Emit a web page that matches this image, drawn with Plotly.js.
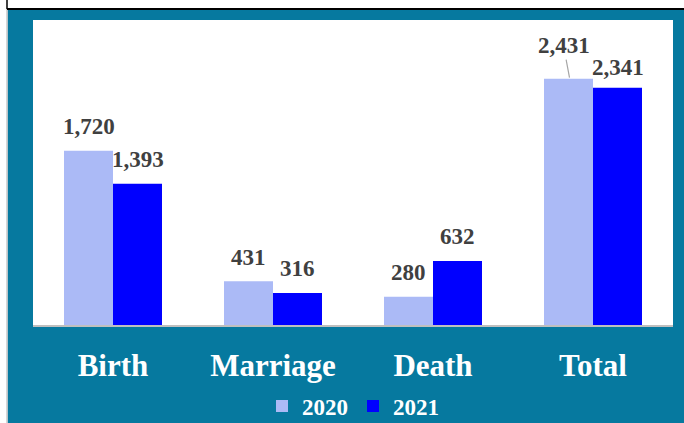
<!DOCTYPE html>
<html>
<head>
<meta charset="utf-8">
<script src="https://cdn.plot.ly/plotly-3.0.1.min.js"></script>
<style>html,body{margin:0;padding:0;background:#fff;}#chart{width:684px;height:423px;}</style>
</head>
<body>
<div id="chart"></div>
<script>
const categories = ["Birth", "Marriage", "Death", "Total"];
const seriesNames = ["2020", "2021"];
const values2020 = [1720, 431, 280, 2431];
const values2021 = [1393, 316, 632, 2341];

const teal = "#06799f";
const color2020 = "#abbaf6";
const color2021 = "#0000ff";
const labelColor = "#404040";
const serif = "Liberation Serif";

function fmt(v) { return v.toLocaleString("en-US"); }

const traces = [
  {type: "bar", name: seriesNames[0], x: categories, y: values2020,
   marker: {color: color2020}, hoverinfo: "none"},
  {type: "bar", name: seriesNames[1], x: categories, y: values2021,
   marker: {color: color2021}, hoverinfo: "none"}
];

const annotations = [];
const off = 24.5; // half bar width in px
categories.forEach((c, i) => {
  const isTotal = c === "Total";
  if (isTotal) {
    annotations.push({x: c, y: values2020[i], xref: "x", yref: "y",
      text: "<b>" + fmt(values2020[i]) + "</b>", showarrow: true,
      arrowhead: 0, arrowcolor: "#a6a6a6", arrowwidth: 1.2,
      ax: -6, ay: -32, xshift: -off + 1, yshift: 1, standoff: 0,
      font: {family: serif, size: 23, color: labelColor}});
  } else {
    annotations.push({x: c, y: values2020[i], xref: "x", yref: "y",
      text: "<b>" + fmt(values2020[i]) + "</b>", showarrow: false,
      xshift: -off, yshift: 24, yanchor: "middle",
      font: {family: serif, size: 23, color: labelColor}});
  }
  annotations.push({x: c, y: values2021[i], xref: "x", yref: "y",
    text: "<b>" + fmt(values2021[i]) + "</b>", showarrow: false,
    xshift: off, yshift: isTotal ? 20 : 24, yanchor: "middle",
    font: {family: serif, size: 23, color: labelColor}});
});

const L = 33, R = 11, T = 20, B = 98, W = 684, H = 423;
const pw = W - L - R, ph = H - T - B;
const px = x => (x - L) / pw;
const py = y => (H - B - y) / ph;

const shapes = [
  {type: "rect", xref: "paper", yref: "paper", x0: px(-5), x1: px(W + 5), y0: py(9), y1: py(-5),
   fillcolor: "#ffffff", line: {width: 0}, layer: "above"},
  {type: "rect", xref: "paper", yref: "paper", x0: px(-5), x1: px(7.5), y0: py(H + 5), y1: py(-5),
   fillcolor: "#ffffff", line: {width: 0}, layer: "above"},
  {type: "line", xref: "paper", yref: "paper", x0: px(7), x1: px(7), y0: py(H + 5), y1: py(9),
   line: {color: "#c8c8c8", width: 1.5}, layer: "above"},
  {type: "line", xref: "paper", yref: "paper", x0: px(7), x1: px(W + 5), y0: py(9), y1: py(9),
   line: {color: "#000000", width: 2}, layer: "above"},
  {type: "line", xref: "paper", yref: "paper", x0: px(7), x1: px(7), y0: py(9), y1: py(-5),
   line: {color: "#000000", width: 1.5}, layer: "above"}
];

const layout = {
  width: W, height: H,
  margin: {l: L, r: R, t: T, b: B, pad: 0, autoexpand: false},
  paper_bgcolor: teal,
  plot_bgcolor: "#ffffff",
  barmode: "group",
  bargap: 0.3875,
  bargroupgap: 0,
  showlegend: true,
  legend: {orientation: "h", x: 0.5, xanchor: "center", y: py(406), yanchor: "middle",
    font: {family: serif, size: 23, color: "#ffffff", weight: "bold"},
    bgcolor: "rgba(0,0,0,0)", itemclick: false, traceorder: "normal", itemwidth: 30},
  xaxis: {type: "category", showgrid: false, zeroline: false, showline: true, automargin: false,
    linecolor: "#bfbfbf", linewidth: 2, ticks: "", ticklabelstandoff: 12,
    tickfont: {family: serif, size: 31, color: "#ffffff", weight: "bold"},
    fixedrange: true},
  yaxis: {range: [0, 3010], showgrid: false, zeroline: false, showline: false, automargin: false,
    showticklabels: false, ticks: "", fixedrange: true},
  annotations: annotations,
  shapes: shapes
};

Plotly.newPlot("chart", traces, layout, {displayModeBar: false, staticPlot: true});
</script>
</body>
</html>
